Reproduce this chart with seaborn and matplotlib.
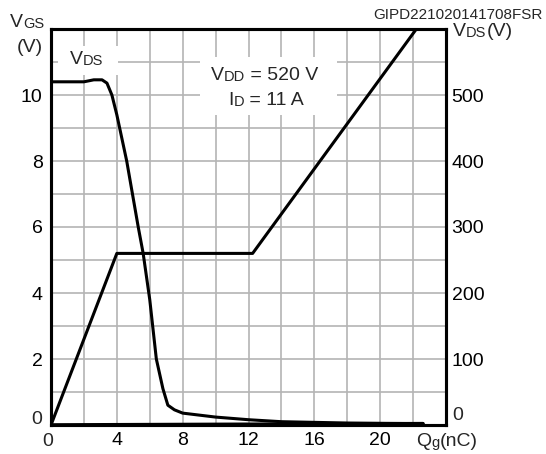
import matplotlib
matplotlib.use("Agg")
import matplotlib.pyplot as plt
from matplotlib.text import Annotation
from matplotlib.patches import Rectangle
import seaborn as sns
import pandas as pd
import numpy as np

sns.set_theme(style="white")
plt.rcParams['font.family'] = ['Liberation Sans', 'DejaVu Sans']

# ---- data ----
qg_vgs = [0, 4.0, 12.25, 22.2]
vgs = [0, 5.2, 5.2, 12.0]

qg_vds = [0, 2.0, 2.6, 3.1, 3.4, 3.7, 4.0, 4.6, 5.3, 5.6, 6.0, 6.4, 6.8, 7.1, 7.5, 8.0, 10.0, 12.0, 14.0, 18.0, 22.6]
vds = [520, 520, 523, 523, 518, 500, 470, 400, 300, 260, 190, 100, 55, 30, 23, 18, 12, 8, 5, 3, 2]

qg_base = [0, 22.6]
base = [0, 2]

x_ticks = [0, 4, 8, 12, 16, 20]
left_ticks = [0, 2, 4, 6, 8, 10]
right_ticks = [0, 100, 200, 300, 400, 500]

W, H = 546, 454
fig = plt.figure(figsize=(W / 100, H / 100), dpi=100)
ax = fig.add_axes([51 / W, 1 - 425 / H, (446 - 51) / W, (425 - 29) / H])
ax2 = ax.twinx()

df_vgs = pd.DataFrame({"Qg": qg_vgs, "V": vgs})
df_vds = pd.DataFrame({"Qg": qg_vds, "V": vds})
df_base = pd.DataFrame({"Qg": qg_base, "V": base})

sns.lineplot(data=df_vgs, x="Qg", y="V", ax=ax, color="black", lw=2.2, zorder=5, sort=False)
sns.lineplot(data=df_vds, x="Qg", y="V", ax=ax2, color="black", lw=2.2, zorder=5, sort=False)
sns.lineplot(data=df_base, x="Qg", y="V", ax=ax2, color="black", lw=2.6, zorder=5, sort=False)

ax.set_xlim(0, 24)
ax.set_ylim(0, 12)
ax2.set_ylim(0, 600)

xt = np.arange(0, 25, 2)
ax.set_xticks(xt)
ax.set_xticklabels([str(v) if (v in x_ticks and v != 0) else "" for v in xt])
yt = np.arange(0, 13, 1)
ax.set_yticks(yt)
ax.set_yticklabels([str(v) if (v in left_ticks and v != 0) else "" for v in yt])
rt = np.arange(0, 601, 50)
ax2.set_yticks(rt)
ax2.set_yticklabels([str(v) if (v in right_ticks and v != 0) else "" for v in rt])

ax.grid(True, color="#b4b4b4", lw=1.2)
ax.set_axisbelow(True)
ax2.grid(False)
for a in (ax, ax2):
    a.tick_params(length=0, labelsize=14, colors="black", pad=5)
    a.set_xlabel("")
    a.set_ylabel("")
    for s in a.spines.values():
        s.set_color("black")
        s.set_linewidth(2.2)
ax.tick_params(axis='y', pad=6)
ax2.tick_params(axis='y', pad=4)
ax.set_zorder(1)
ax2.set_zorder(2)
ax2.patch.set_visible(False)

MS, SS = 14, 10.5


def fx(px):
    return px / W


def fy(py):
    return 1 - py / H


def compound(x, y, parts):
    """parts: list of (text, size); x,y pixel of baseline-left of first part."""
    t = fig.text(fx(x), fy(y), parts[0][0], fontsize=parts[0][1], va='baseline', ha='left', zorder=10)
    prev = t
    for txt, sz in parts[1:]:
        a = Annotation(txt, xy=(1, 0), xycoords=prev, fontsize=sz, va='bottom', ha='left',
                       annotation_clip=False)
        a.set_zorder(10)
        fig.add_artist(a)
        prev = a
    return t


# white boxes behind labels (interrupt the grid)
for (x0, y0, x1, y1) in [(58, 46, 118, 75), (200, 57, 337, 115)]:
    fig.add_artist(Rectangle((fx(x0), fy(y1)), fx(x1) - fx(x0), fy(y0) - fy(y1),
                             transform=fig.transFigure, facecolor="white", edgecolor="none", zorder=3))

# zero labels (offset like the reference)
fig.text(fx(47.5), fy(446), "0", fontsize=MS, va='baseline', ha='center')
fig.text(fx(42), fy(420), "0", fontsize=MS, va='center', ha='right')
fig.text(fx(452), fy(415.5), "0", fontsize=MS, va='center', ha='left')

compound(10, 27, [("V", MS), ("GS", SS)])
fig.text(fx(17), fy(52), "(V)", fontsize=MS, va='baseline', ha='left')
compound(70, 64, [("V", MS), ("DS", SS)])
compound(211, 80, [("V", MS), ("DD", SS), (" = 520 V", MS)])
compound(228, 105, [("I", MS), ("D", SS), (" = 11 A", MS)])
compound(453, 36, [("V", MS), ("DS", SS), ("(V)", MS)])
compound(416, 446, [("Q", MS), ("g", SS), ("(nC)", MS)])
fig.text(fx(543), fy(19), "GIPD221020141708FSR", fontsize=11, va='baseline', ha='right')

fig.savefig("out.png", dpi=100)
